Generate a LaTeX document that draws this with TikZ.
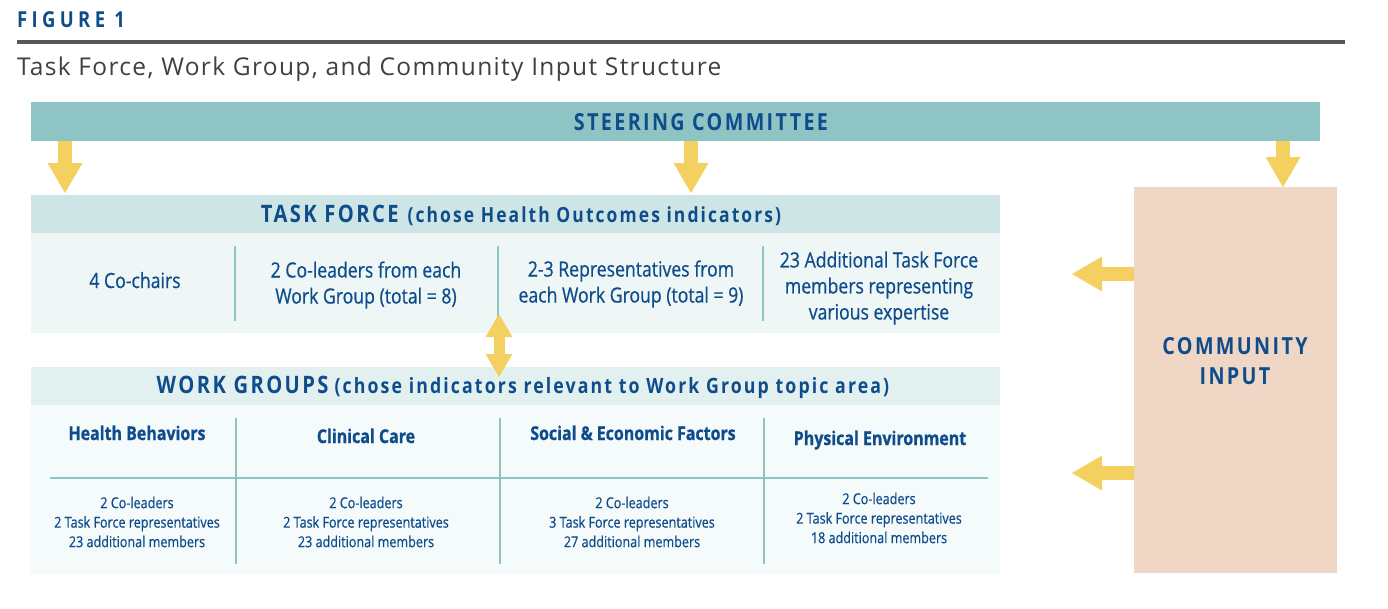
\documentclass[tikz,border=0pt]{standalone}
\usepackage{fontspec}
\setmainfont{Open Sans}
\newfontfamily\cnd[FakeStretch=0.84,FakeBold=0.6]{Open Sans}
\newfontfamily\cndb[FakeStretch=0.84,FakeBold=0.8]{Open Sans}
\newfontfamily\capsfont[FakeStretch=0.84,LetterSpace=10]{Open Sans}
\newfontfamily\figfont[FakeStretch=0.84,LetterSpace=20]{Open Sans}
\newfontfamily\subfont[LetterSpace=5.5]{Open Sans}
\usetikzlibrary{arrows.meta}
\newcommand\myfs[2]{\fontsize{#1}{#2}\selectfont}
\definecolor{cNavy}{RGB}{14,76,140}
\definecolor{cSteer}{RGB}{143,196,196}
\definecolor{cTfHead}{RGB}{206,229,229}
\definecolor{cTfBody}{RGB}{238,247,246}
\definecolor{cWgHead}{RGB}{226,240,240}
\definecolor{cWgBody}{RGB}{245,250,251}
\definecolor{cComm}{RGB}{240,214,196}
\definecolor{cArrow}{RGB}{244,208,96}
\definecolor{cRule}{RGB}{85,87,90}
\definecolor{cSub}{RGB}{64,64,64}
\definecolor{cLine}{RGB}{143,196,196}
\begin{document}
\begin{tikzpicture}[x=1pt,y=-1pt,
  box/.style={draw=none, inner sep=0pt, outer sep=0pt, anchor=north west},
  txt/.style={inner sep=0pt, outer sep=0pt, text=cNavy, align=center},
  gridline/.style={draw=cLine, line width=2.5pt},
  arr/.style={draw=cArrow, line width=14pt, -{Triangle[width=35pt,length=30pt,line width=0pt]}},
  darr/.style={draw=cArrow, line width=11pt, {Triangle[width=27pt,length=23pt,line width=0pt]}-{Triangle[width=27pt,length=23pt,line width=0pt]}},
  tfbody/.style={txt, font={\cnd\myfs{21}{26}}},
  wghd/.style={txt, anchor=base, font={\cndb\bfseries\myfs{19}{23}}},
  wgitem/.style={txt, font={\cnd\myfs{15}{19.5}}},
  bigcap/.style={txt, font={\capsfont\bfseries\myfs{23.5}{30}}}]
\useasboundingbox (0,0) rectangle (1388,608);
% title block
\node[txt, anchor=base west] (fig) at (17,27) {\figfont\bfseries\myfs{22}{26}FIGURE 1};
\node[box, fill=cRule, minimum width=1328pt, minimum height=4.5pt] (rule) at (17,39.5) {};
\node[txt, text=cSub, anchor=base west] (sub) at (17,75) {\subfont\myfs{24.5}{28}Task Force, Work Group, and Community Input Structure};
% steering committee
\node[box, fill=cSteer, minimum width=1289pt, minimum height=39pt] (steer) at (31,102) {};
\node[bigcap, anchor=base] (steert) at (701,130.5) {STEERING COMMITTEE};
% task force
\node[box, fill=cTfHead, minimum width=969pt, minimum height=38pt] (tfhead) at (31,195) {};
\node[txt, anchor=base] (tft) at (521,222) {\capsfont\bfseries\myfs{24}{28}TASK FORCE\hspace{9pt}\myfs{20.8}{24}(chose Health Outcomes indicators)};
\node[box, fill=cTfBody, minimum width=969pt, minimum height=100pt] (tfbody) at (31,233) {};
\draw[gridline] (235,246) -- (235,321);
\draw[gridline] (498,246) -- (498,321);
\draw[gridline] (763,246) -- (763,321);
\node[tfbody, anchor=base] (tf1) at (135,288) {4 Co-chairs};
\node[tfbody] (tf2) at (366,285) {2 Co-leaders from each\\Work Group (total = 8)};
\node[tfbody] (tf3) at (631,284) {2-3 Representatives from\\each Work Group (total = 9)};
\node[tfbody] (tf4) at (879,288) {23 Additional Task Force\\members representing\\various expertise};
% work groups
\node[box, fill=cWgHead, minimum width=969pt, minimum height=38pt] (wghead) at (31,367) {};
\node[txt, anchor=base] (wgt) at (523,393.5) {\capsfont\bfseries\myfs{24}{28}WORK GROUPS\hspace{6pt}\myfs{21.1}{24}(chose indicators relevant to Work Group topic area)};
\node[box, fill=cWgBody, minimum width=969pt, minimum height=169pt] (wgbody) at (31,405) {};
\draw[gridline] (236,418) -- (236,564);
\draw[gridline] (500,418) -- (500,564);
\draw[gridline] (764,418) -- (764,564);
\draw[gridline] (50,478) -- (988,478);
\node[wghd] (h1) at (137,440) {Health Behaviors};
\node[wghd] (h2) at (366,443) {Clinical Care};
\node[wghd] (h3) at (633,440) {Social \& Economic Factors};
\node[wghd] (h4) at (880,445) {Physical Environment};
\node[wgitem] (i1) at (137,522) {2 Co-leaders\\2 Task Force representatives\\23 additional members};
\node[wgitem] (i2) at (366,522) {2 Co-leaders\\2 Task Force representatives\\23 additional members};
\node[wgitem] (i3) at (632,522) {2 Co-leaders\\3 Task Force representatives\\27 additional members};
\node[wgitem] (i4) at (879,518) {2 Co-leaders\\2 Task Force representatives\\18 additional members};
% community input
\node[box, fill=cComm, minimum width=203pt, minimum height=386pt] (comm) at (1134,187) {};
\node[bigcap] (commt) at (1235,361) {COMMUNITY\\INPUT};
% arrows
\draw[arr] ([xshift=34pt]steer.south west) -- ([xshift=34pt,yshift=2pt]tfhead.north west);
\draw[arr] ([xshift=660pt]steer.south west) -- ([xshift=660pt,yshift=2pt]tfhead.north west);
\draw[arr] ([xshift=149pt]comm.north west |- steer.south) -- ([xshift=149pt]comm.north west);
\coordinate (ci1) at (1072,274);
\coordinate (ci2) at (1072,473);
\draw[arr] (comm.west |- ci1) -- (ci1);
\draw[arr] (comm.west |- ci2) -- (ci2);
\draw[darr] ([xshift=468pt,yshift=19pt]tfbody.south west) -- ([xshift=468pt,yshift=-10pt]wghead.north west);
\end{tikzpicture}
\end{document}
